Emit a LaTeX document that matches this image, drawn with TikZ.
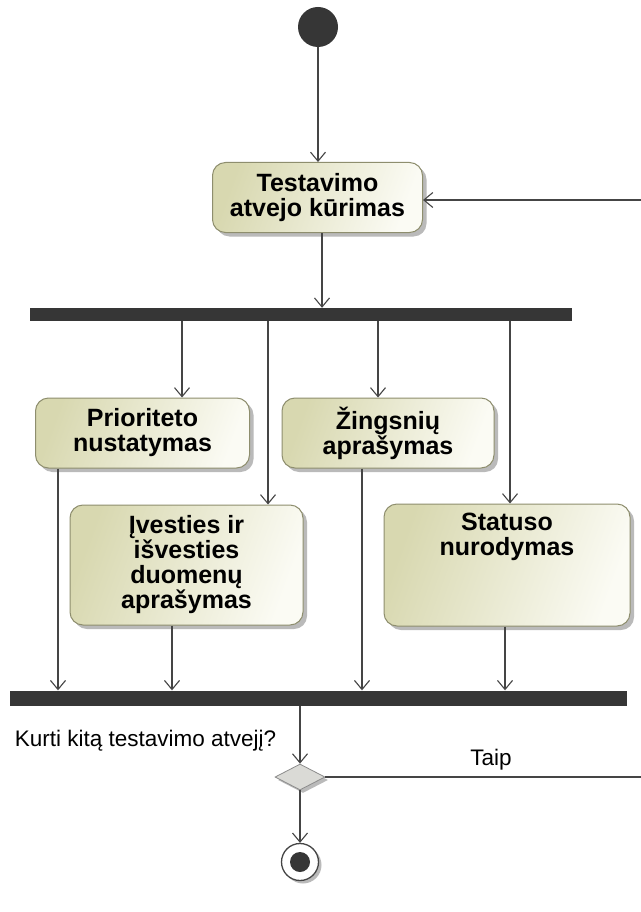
\documentclass[tikz,border=0pt]{standalone}
\usepackage{fontspec}
\setmainfont{Liberation Sans}
\usetikzlibrary{arrows.meta,shapes.geometric,shadows}
\definecolor{lineg}{HTML}{454545}
\definecolor{bard}{HTML}{363636}
\definecolor{boxbd}{HTML}{8E8E6E}
\definecolor{boxdk}{HTML}{D8D8B0}
\definecolor{boxlt}{HTML}{FBFBF4}
\definecolor{diafill}{HTML}{DADAD6}
\begin{document}
\begin{tikzpicture}[x=1pt,y=-1pt,
  boxtext/.style={font=\bfseries\fontsize{25}{25}\selectfont, align=center, inner sep=0pt, text=black},
  act/.style={boxtext, draw=boxbd, line width=1pt, rounded corners=13pt,
    left color=boxdk, right color=boxlt, shading angle=70,
    drop shadow={shadow xshift=4pt, shadow yshift=-4pt, fill=black!45, opacity=0.6}},
  fbar/.style={fill=bard, draw=none, inner sep=0pt, rectangle},
  lbl/.style={font=\fontsize{22.5}{25}\selectfont, inner sep=0pt, text=black},
  arr/.style={draw=lineg, line width=1.1pt, -{Straight Barb[length=9pt,width=15pt,line width=1.1pt]}},
  ln/.style={draw=lineg, line width=1.1pt}]
\useasboundingbox (0,0) rectangle (640,912);
\fill[white] (0,0) rectangle (640,912);

% nodes
\node[circle, fill=bard, minimum size=40pt, inner sep=0pt] (start) at (318,27) {};
\node[act, minimum width=210pt, minimum height=70pt] (b1) at (317.5,197.5) {Testavimo\\atvejo kūrimas};
\node[fbar, minimum width=542pt, minimum height=13pt] (f1) at (301,314.5) {};
\node[act, minimum width=214pt, minimum height=70pt] (pr) at (142.5,433) {Prioriteto\\nustatymas};
\node[act, minimum width=212pt, minimum height=70pt] (zi) at (388,433) {Žingsnių\\aprašymas};
\node[act, minimum width=233pt, minimum height=120pt] (iv) at (186.5,565) {Įvesties ir\\išvesties\\duomenų\\aprašymas};
\node[act, minimum width=246pt, minimum height=122pt] (st) at (507,565) {};
\node[boxtext, anchor=north] (sttx) at (507,513) {Statuso\\nurodymas};
\node[fbar, minimum width=617pt, minimum height=15pt] (j1) at (318.5,698) {};
\node[diamond, fill=diafill, draw=black!45, line width=0.8pt, minimum width=50pt, minimum height=26pt, inner sep=0pt,
  drop shadow={shadow xshift=3pt, shadow yshift=-3pt, fill=black!45, opacity=0.6}] (dec) at (300,777) {};
\node[circle, draw=lineg, line width=1.3pt, fill=white, minimum size=37pt, inner sep=0pt,
  drop shadow={shadow xshift=3pt, shadow yshift=-3pt, fill=black!45, opacity=0.6}] (fin) at (300,862) {};
\node[circle, fill=bard, minimum size=20pt, inner sep=0pt] (fini) at (fin) {};

\node[lbl, anchor=base] (q) at (145.5,746) {Kurti kitą testavimo atvejį?};
\node[lbl, anchor=base] (taip) at (491,765) {Taip};

% helper x positions
\coordinate (c1) at (322,0);
\coordinate (xa) at (182,0);
\coordinate (xb) at (268,0);
\coordinate (xc) at (378,0);
\coordinate (xd) at (510,0);
\coordinate (ya) at (58,0);
\coordinate (yb) at (172,0);
\coordinate (yc) at (362,0);
\coordinate (yd) at (505,0);
\coordinate (rc1) at (648,777);
\coordinate (rc2) at (648,200);

% connectors
\draw[arr] (start.south) -- (start.south |- b1.north);
\draw[arr] (b1.south -| c1) -- (f1.north -| c1);
\draw[arr] (f1.south -| xa) -- (pr.north -| xa);
\draw[arr] (f1.south -| xb) -- (iv.north -| xb);
\draw[arr] (f1.south -| xc) -- (zi.north -| xc);
\draw[arr] (f1.south -| xd) -- (st.north -| xd);
\draw[arr] (pr.south -| ya) -- (j1.north -| ya);
\draw[arr] (iv.south -| yb) -- (j1.north -| yb);
\draw[arr] (zi.south -| yc) -- (j1.north -| yc);
\draw[arr] (st.south -| yd) -- (j1.north -| yd);
\draw[arr] (j1.south -| dec.north) -- (dec.north);
\draw[arr] (dec.south) -- (fin.north);
\draw[arr] (dec.east) -- (rc1) -- (rc2) -- (b1.east |- rc2);
\end{tikzpicture}
\end{document}
